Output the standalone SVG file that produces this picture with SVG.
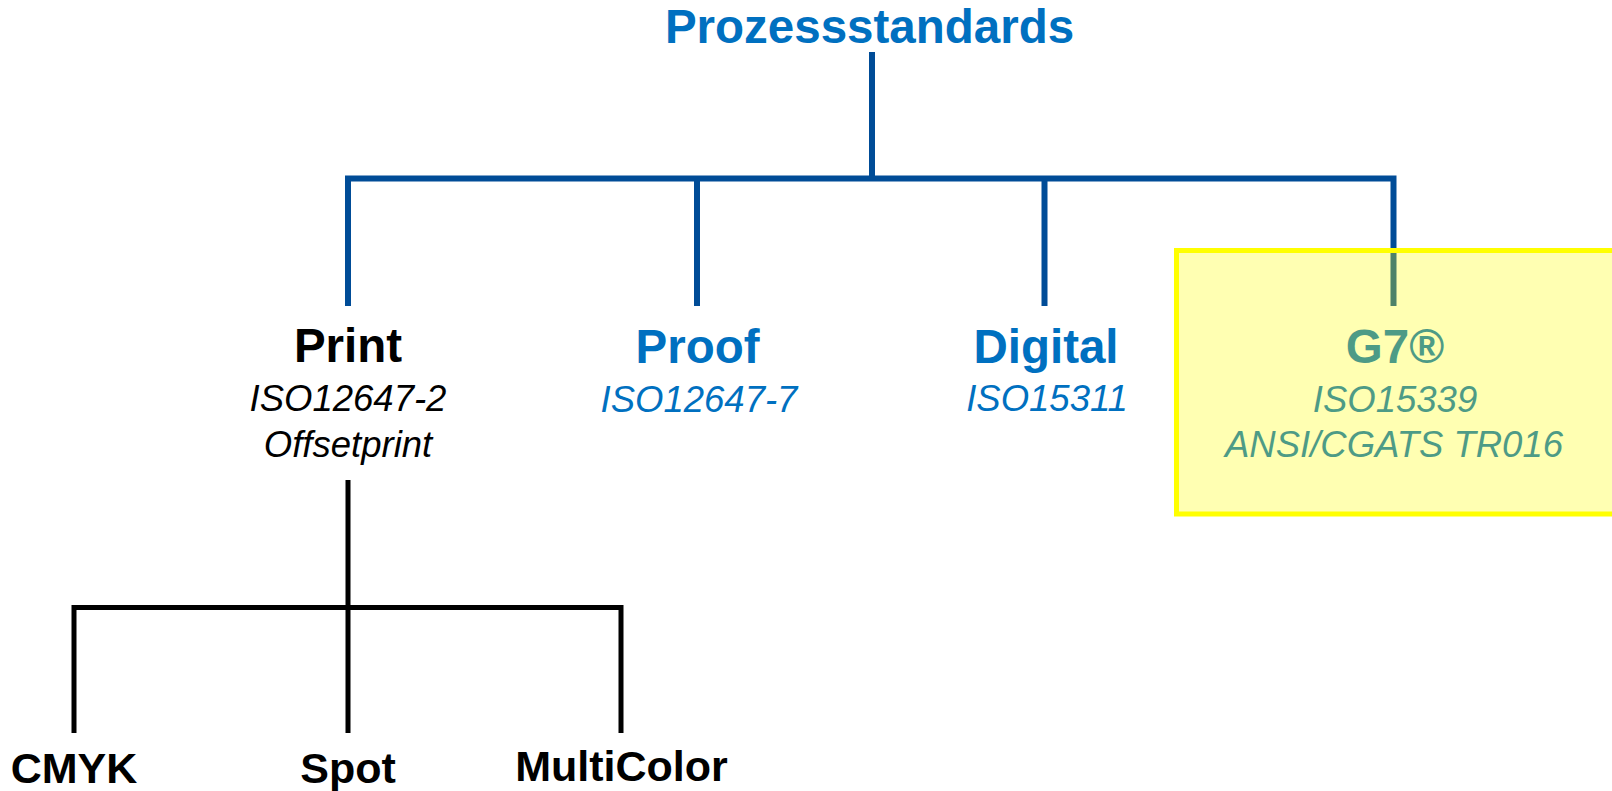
<svg xmlns="http://www.w3.org/2000/svg" width="1612" height="791" viewBox="0 0 1612 791">
<style>
.b{font-family:"Liberation Sans",Arial,sans-serif;font-weight:bold;font-size:47.5px;text-anchor:middle}
.i{font-family:"Liberation Sans",Arial,sans-serif;font-style:italic;font-size:36.5px;text-anchor:middle}
.s{font-family:"Liberation Sans",Arial,sans-serif;font-weight:bold;font-size:43px;text-anchor:middle}
.blue{fill:#0070C0}
.blk{fill:#000}
.bl{stroke:#004C97;stroke-width:6;fill:none}
.k{stroke:#000;stroke-width:5;fill:none}
</style>
<rect width="1612" height="791" fill="#fff"/>
<g id="connectors">
<path class="bl" d="M872 52V178.5M348 306V178.5H1393.5V306M697 178.5V306M1044.5 178.5V306"/>
<path class="k" d="M348 480V607.5M74 733V607.5H621V733M348 607.5V733"/>
</g>
<g id="root"><text class="b blue" x="869.5" y="43">Prozessstandards</text></g>
<g id="print"><text class="b blk" x="348" y="362">Print</text><text class="i blk" x="348" y="411">ISO12647-2</text><text class="i blk" x="348" y="457">Offsetprint</text></g>
<g id="proof"><text class="b blue" x="697.5" y="363">Proof</text><text class="i blue" x="699" y="412">ISO12647-7</text></g>
<g id="digital"><text class="b blue" x="1046" y="363">Digital</text><text class="i blue" x="1047" y="411">ISO15311</text></g>
<g id="g7"><text class="b blue" x="1395" y="363">G7®</text><text class="i blue" x="1395" y="412">ISO15339</text><text class="i blue" x="1394" y="457">ANSI/CGATS TR016</text>
<rect x="1176.5" y="250.5" width="470" height="263.5" fill="#ffff00" fill-opacity="0.3" stroke="#ffff00" stroke-width="5"/></g>
<g id="cmyk"><text class="s blk" x="74" y="783">CMYK</text></g>
<g id="spot"><text class="s blk" x="348" y="783">Spot</text></g>
<g id="multicolor"><text class="s blk" x="621.5" y="781">MultiColor</text></g>
</svg>
